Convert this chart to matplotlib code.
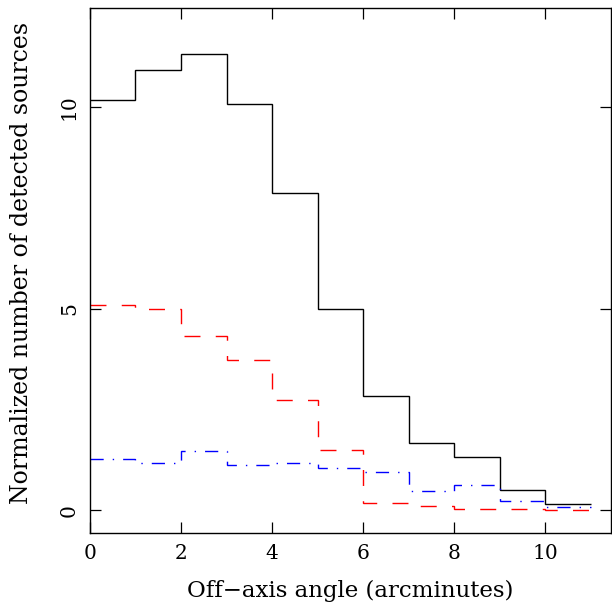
import numpy as np
import matplotlib
matplotlib.use("Agg")
import matplotlib.pyplot as plt

# bin edges in arcminutes, 1' bins
edges = np.arange(0, 12, 1)

total = [10.19, 10.92, 11.33, 10.09, 7.87, 5.00, 2.84, 1.67, 1.32, 0.49, 0.16]
red_part = [5.09, 4.99, 4.32, 3.73, 2.73, 1.50, 0.18, 0.10, 0.03, 0.03, 0.00]
blue_part = [1.27, 1.17, 1.46, 1.12, 1.17, 1.05, 0.94, 0.47, 0.63, 0.23, 0.08]

xticks = [0, 2, 4, 6, 8, 10]
yticks = [0, 5, 10]

plt.rcParams['font.family'] = 'DejaVu Serif'

fig = plt.figure(figsize=(6.12, 6.04), dpi=100)
ax = fig.add_axes([0.147, 0.118, 0.851, 0.868])

ax.stairs(total, edges, baseline=None, color='black', lw=1.0)
ax.stairs(red_part, edges, baseline=None, color='#ff0000', lw=1.0,
          linestyle=(0, (11.5, 11)))
ax.stairs(blue_part, edges, baseline=None, color='#0000ff', lw=1.0,
          linestyle=(0, (9.5, 6.5, 1, 6.5)))

ax.set_xlim(0, 11.44)
ax.set_ylim(-0.56, 12.45)
ax.set_xticks(xticks)
ax.set_yticks(yticks)
ax.tick_params(direction='in', length=8, width=0.9, top=True, right=True,
               labelsize=14.5, pad=8)
for lab in ax.get_yticklabels():
    lab.set_rotation(90)
    lab.set_va('center')
for sp in ax.spines.values():
    sp.set_linewidth(1.0)

ax.set_xlabel("Off\u2212axis angle (arcminutes)", fontsize=16.5, labelpad=12)
ax.set_ylabel("Normalized number of detected sources", fontsize=17)
ax.yaxis.set_label_coords(-0.11, 0.515)

fig.savefig("out.png", dpi=100)
